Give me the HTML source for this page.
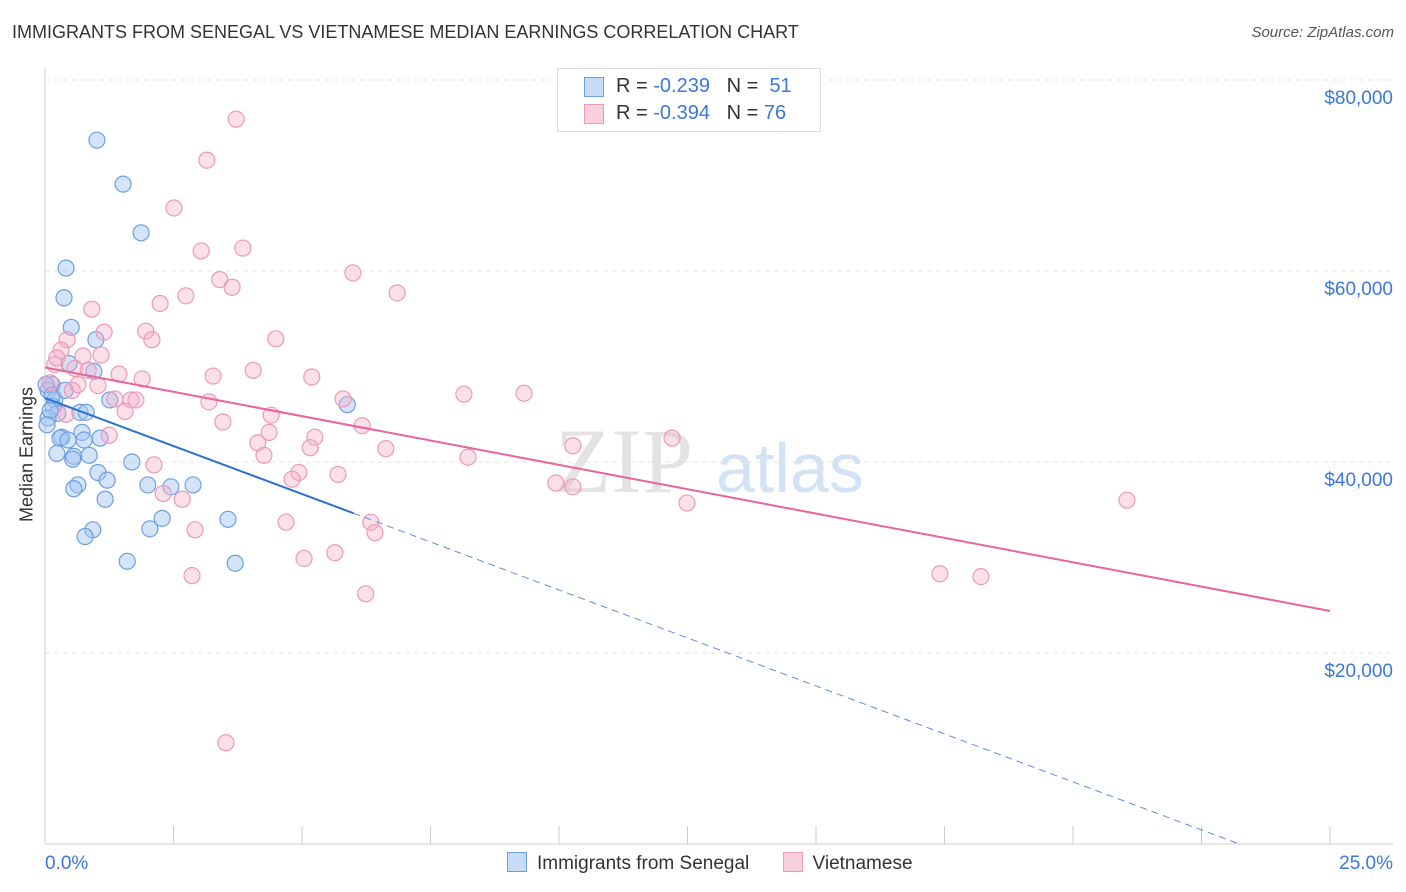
<!DOCTYPE html>
<html><head><meta charset="utf-8"><style>
body{margin:0;background:#fff;font-family:"Liberation Sans",sans-serif;}
#wrap{position:relative;width:1406px;height:892px;overflow:hidden;}
</style></head><body>
<div id="wrap">
<div style="position:absolute;left:12px;top:22px;font-size:18px;color:#333;">IMMIGRANTS FROM SENEGAL VS VIETNAMESE MEDIAN EARNINGS CORRELATION CHART</div>
<div style="position:absolute;right:12px;top:24px;font-size:15px;color:#555;font-style:italic;">Source: ZipAtlas.com</div>
<svg id="svg" width="1406" height="892" style="position:absolute;left:0;top:0"></svg>
</div>
<script>
const blueX=[1.01,1.52,1.87,0.41,0.37,0.51,0.99,0.47,0.95,0.14,0.06,0.19,1.26,0.16,0.68,0.80,0.25,0.06,0.33,0.29,0.72,0.76,1.07,0.23,0.56,0.54,0.86,1.69,1.03,1.21,0.64,0.56,2.00,2.45,2.88,1.17,2.28,3.56,0.93,2.04,0.78,1.60,3.70,5.88,0.10,0.02,0.14,0.39,0.04,0.45];
const blueY=[73.7,69.1,64.0,60.3,57.2,54.1,52.8,50.3,49.5,48.1,47.5,46.5,46.5,45.8,45.2,45.2,45.1,44.6,42.6,42.5,43.1,42.3,42.5,40.9,40.6,40.3,40.7,40.0,38.9,38.1,37.6,37.2,37.6,37.4,37.6,36.1,34.1,34.0,32.9,33.0,32.2,29.6,29.4,46.0,45.4,48.1,47.0,47.5,43.9,42.3];
const pinkX=[3.72,3.15,2.51,3.04,3.85,3.40,3.64,5.99,6.85,2.24,2.74,0.91,1.15,1.96,2.08,4.49,0.43,0.31,0.74,1.09,0.19,3.27,4.05,5.19,1.44,1.89,1.03,0.53,1.67,1.77,3.19,5.80,8.15,9.32,1.56,3.46,4.40,6.17,5.25,4.36,5.16,6.63,4.14,4.26,8.23,10.27,12.20,1.25,2.12,4.94,5.70,4.81,2.30,2.67,9.94,10.27,12.49,21.05,2.92,4.69,6.34,6.42,5.04,5.64,2.86,17.41,18.21,6.24,3.52,0.23,0.64,0.10,0.58,1.36,0.84,0.41];
const pinkY=[75.9,71.6,66.6,62.1,62.4,59.1,58.3,59.8,57.7,56.6,57.4,56.0,53.6,53.7,52.8,52.9,52.8,51.7,51.1,51.2,50.2,49.0,49.6,48.9,49.2,48.7,48.0,47.5,46.5,46.5,46.3,46.6,47.1,47.2,45.3,44.2,44.9,43.8,42.6,43.1,41.5,41.4,42.0,40.7,40.5,41.7,42.5,42.8,39.7,38.9,38.7,38.2,36.7,36.1,37.8,37.4,35.7,36.0,32.9,33.7,33.7,32.6,29.9,30.5,28.1,28.3,28.0,26.2,10.6,50.9,48.1,48.3,49.8,46.6,49.6,45.0];
const yTicks=[20,40,60,80];
const yTickLabels=["$20,000","$40,000","$60,000","$80,000"];
const xTicks=[0,2.5,5,7.5,10,12.5,15,17.5,20,22.5,25];
const blueTrend=[46.7,-2.01];
const pinkTrend=[49.9,24.4];
const blueSolidEnd=6.0;

const NS="http://www.w3.org/2000/svg";
const svg=document.getElementById('svg');
const sx=v=>45+v*(1285/25);
const sy=v=>844-v*9.55;
function mk(t,a,p){const e=document.createElementNS(NS,t);for(const k in a)e.setAttribute(k,a[k]);(p||svg).appendChild(e);return e;}

yTicks.forEach((t,i)=>{
 const g=mk('line',{x1:45,x2:1393,y1:sy(t),y2:sy(t),stroke:'#e4e4e4','stroke-dasharray':'5,4'});
 
 
 const tx=mk('text',{x:1393,y:sy(t)+24,'text-anchor':'end','font-size':19,fill:'#3b78d8','font-family':'Liberation Sans'});
 tx.textContent=yTickLabels[i];
 
 
});
mk('line',{x1:45,x2:45,y1:68,y2:844,stroke:'#ccc'});
mk('line',{x1:45,x2:1393,y1:844,y2:844,stroke:'#ccc'});
xTicks.forEach(t=>{const l=mk('line',{x1:sx(t),x2:sx(t),y1:826,y2:844,stroke:'#ccc'});
 
 });
const wm=mk('text',{x:555,y:492,'font-size':92,fill:'#e3e3e3','font-family':'Liberation Serif'});wm.textContent='ZIP';


const wm2=mk('text',{x:716,y:492,'font-size':70,fill:'#d3e2f5','font-family':'Liberation Sans'});wm2.textContent='atlas';


blueX.forEach((x,i)=>{const c=mk('circle',{cx:sx(x),cy:sy(blueY[i]),r:8,fill:'rgba(160,196,240,0.45)',stroke:'#6d9fe0','stroke-width':1.2});
 
 });
pinkX.forEach((x,i)=>{const c=mk('circle',{cx:sx(x),cy:sy(pinkY[i]),r:8,fill:'rgba(245,175,200,0.4)',stroke:'#eb9ab8','stroke-width':1.2});
 
 });
const zeroX=-blueTrend[0]/blueTrend[1];
const bl=mk('line',{x1:sx(0),y1:sy(blueTrend[0]),x2:sx(blueSolidEnd),y2:sy(blueTrend[0]+blueTrend[1]*blueSolidEnd),stroke:'#2a6fd6','stroke-width':2});


const bd=mk('line',{x1:sx(blueSolidEnd),y1:sy(blueTrend[0]+blueTrend[1]*blueSolidEnd),x2:sx(zeroX),y2:sy(0),stroke:'#5b8fdc','stroke-width':1,'stroke-dasharray':'7,5'});


const pl=mk('line',{x1:sx(0),y1:sy(pinkTrend[0]),x2:sx(25),y2:sy(pinkTrend[1]),stroke:'#e8649a','stroke-width':2});


</script>
<div style="position:absolute;left:-48px;top:444px;transform:rotate(-90deg);font-size:18px;color:#333;width:150px;text-align:center;white-space:nowrap;">Median Earnings</div>
<div style="position:absolute;left:45px;top:853px;font-size:19px;color:#3b78d8;">0.0%</div>
<div style="position:absolute;right:13px;top:853px;font-size:19px;color:#3b78d8;">25.0%</div>
<div style="position:absolute;left:557px;top:68px;width:262px;height:62px;border:1px solid #ddd;background:#fff;font-size:20px;color:#333;">
 <div style="position:absolute;left:26px;top:8px;width:18px;height:18px;background:rgba(160,196,240,0.6);border:1px solid #6d9fe0"></div>
 <div style="position:absolute;left:58px;top:6px;">R = <span style="color:#3b78d8">-0.239</span>&nbsp;&nbsp;&nbsp;N = &nbsp;<span style="color:#3b78d8">51</span></div>
 <div style="position:absolute;left:26px;top:35px;width:18px;height:18px;background:rgba(245,175,200,0.6);border:1px solid #eb9ab8"></div>
 <div style="position:absolute;left:58px;top:33px;">R = <span style="color:#3b78d8">-0.394</span>&nbsp;&nbsp;&nbsp;N = <span style="color:#3b78d8">76</span></div>
</div>
<div style="position:absolute;left:507px;top:852px;font-size:19px;color:#333;">
 <span style="display:inline-block;"><span style="display:inline-block;width:18px;height:18px;background:rgba(160,196,240,0.6);border:1px solid #6d9fe0;vertical-align:-3px;margin-right:10px"></span>Immigrants from Senegal</span>
 <span style="display:inline-block;margin-left:28px;"><span style="display:inline-block;width:18px;height:18px;background:rgba(245,175,200,0.6);border:1px solid #eb9ab8;vertical-align:-3px;margin-right:10px"></span>Vietnamese</span>
</div>
</body></html>
